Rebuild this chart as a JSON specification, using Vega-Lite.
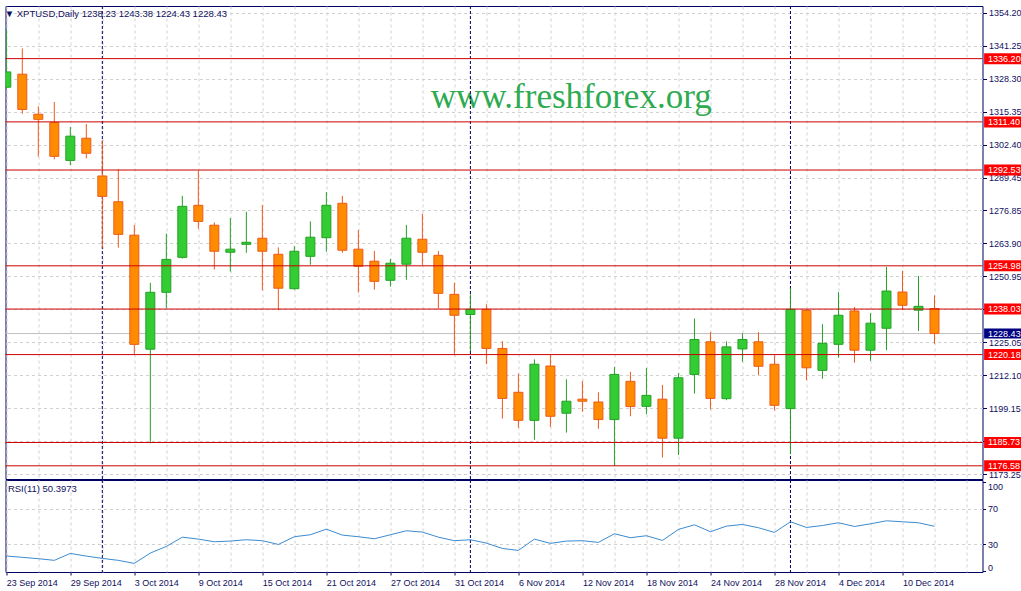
{
  "$schema": "https://vega.github.io/schema/vega-lite/v6.json",
  "background": "white",
  "padding": {"left": 3.5, "top": 5, "right": 0, "bottom": 0},
  "spacing": 1,
  "bounds": "flush",
  "config": {
    "view": {"stroke": "#000060", "strokeWidth": 1},
    "font": "Liberation Sans",
    "axis": {"labelOverlap": false, "tickCount": 200},
    "scale": {"continuousPadding": 0}
  },
  "resolve": {"scale": {"x": "independent", "y": "independent"}},
  "datasets": {
    "candles": [
      {"i":0,"o":1325.0,"h":1347.7,"l":1324.6,"c":1331.0,"d":"up"},
      {"i":1,"o":1330.1,"h":1340.2,"l":1314.6,"c":1316.3,"d":"down"},
      {"i":2,"o":1314.4,"h":1317.5,"l":1297.8,"c":1312.4,"d":"down"},
      {"i":3,"o":1311.2,"h":1319.2,"l":1296.7,"c":1297.9,"d":"down"},
      {"i":4,"o":1296.3,"h":1309.4,"l":1294.4,"c":1305.8,"d":"up"},
      {"i":5,"o":1305.0,"h":1310.6,"l":1297.1,"c":1299.1,"d":"down"},
      {"i":6,"o":1290.2,"h":1304.2,"l":1262.1,"c":1282.2,"d":"down"},
      {"i":7,"o":1280.1,"h":1292.8,"l":1262.1,"c":1267.3,"d":"down"},
      {"i":8,"o":1267.0,"h":1271.0,"l":1220.0,"c":1224.2,"d":"down"},
      {"i":9,"o":1222.3,"h":1248.3,"l":1185.4,"c":1244.6,"d":"up"},
      {"i":10,"o":1244.6,"h":1267.6,"l":1238.5,"c":1257.5,"d":"up"},
      {"i":11,"o":1258.3,"h":1282.4,"l":1257.8,"c":1278.3,"d":"up"},
      {"i":12,"o":1278.7,"h":1292.2,"l":1269.5,"c":1272.4,"d":"down"},
      {"i":13,"o":1270.9,"h":1272.0,"l":1253.5,"c":1260.7,"d":"down"},
      {"i":14,"o":1260.3,"h":1273.7,"l":1252.7,"c":1261.5,"d":"up"},
      {"i":15,"o":1263.4,"h":1276.2,"l":1260.1,"c":1264.2,"d":"up"},
      {"i":16,"o":1265.8,"h":1278.8,"l":1245.4,"c":1260.7,"d":"down"},
      {"i":17,"o":1259.5,"h":1262.2,"l":1237.6,"c":1246.2,"d":"down"},
      {"i":18,"o":1246.0,"h":1262.7,"l":1245.6,"c":1260.7,"d":"up"},
      {"i":19,"o":1258.7,"h":1272.4,"l":1255.4,"c":1266.2,"d":"up"},
      {"i":20,"o":1266.0,"h":1283.9,"l":1260.5,"c":1278.7,"d":"up"},
      {"i":21,"o":1279.5,"h":1282.4,"l":1260.1,"c":1261.1,"d":"down"},
      {"i":22,"o":1261.5,"h":1269.0,"l":1244.5,"c":1254.8,"d":"down"},
      {"i":23,"o":1256.8,"h":1260.8,"l":1245.6,"c":1248.9,"d":"down"},
      {"i":24,"o":1249.3,"h":1257.7,"l":1246.8,"c":1256.0,"d":"up"},
      {"i":25,"o":1255.6,"h":1271.0,"l":1249.5,"c":1265.8,"d":"up"},
      {"i":26,"o":1265.4,"h":1275.4,"l":1255.3,"c":1260.3,"d":"down"},
      {"i":27,"o":1259.1,"h":1260.8,"l":1238.2,"c":1244.2,"d":"down"},
      {"i":28,"o":1243.8,"h":1248.3,"l":1219.9,"c":1235.6,"d":"down"},
      {"i":29,"o":1235.9,"h":1243.8,"l":1221.6,"c":1237.9,"d":"up"},
      {"i":30,"o":1237.9,"h":1239.9,"l":1216.4,"c":1222.6,"d":"down"},
      {"i":31,"o":1222.6,"h":1225.5,"l":1195.1,"c":1203.0,"d":"down"},
      {"i":32,"o":1205.4,"h":1212.7,"l":1191.5,"c":1194.4,"d":"down"},
      {"i":33,"o":1194.4,"h":1218.3,"l":1186.8,"c":1216.4,"d":"up"},
      {"i":34,"o":1215.7,"h":1220.0,"l":1191.8,"c":1196.0,"d":"down"},
      {"i":35,"o":1197.2,"h":1210.5,"l":1189.6,"c":1201.9,"d":"up"},
      {"i":36,"o":1202.7,"h":1209.8,"l":1197.8,"c":1201.9,"d":"down"},
      {"i":37,"o":1201.6,"h":1205.4,"l":1191.1,"c":1194.7,"d":"down"},
      {"i":38,"o":1194.7,"h":1215.3,"l":1176.5,"c":1212.4,"d":"up"},
      {"i":39,"o":1209.7,"h":1213.4,"l":1196.0,"c":1199.8,"d":"down"},
      {"i":40,"o":1199.9,"h":1214.9,"l":1196.8,"c":1204.2,"d":"up"},
      {"i":41,"o":1202.7,"h":1208.3,"l":1179.8,"c":1187.4,"d":"down"},
      {"i":42,"o":1187.4,"h":1212.9,"l":1180.8,"c":1211.1,"d":"up"},
      {"i":43,"o":1212.4,"h":1234.3,"l":1204.9,"c":1226.1,"d":"up"},
      {"i":44,"o":1225.2,"h":1229.0,"l":1198.7,"c":1203.0,"d":"down"},
      {"i":45,"o":1202.9,"h":1225.4,"l":1202.3,"c":1223.2,"d":"up"},
      {"i":46,"o":1222.4,"h":1228.5,"l":1217.4,"c":1226.1,"d":"up"},
      {"i":47,"o":1225.2,"h":1229.0,"l":1212.2,"c":1215.6,"d":"down"},
      {"i":48,"o":1216.4,"h":1219.9,"l":1198.3,"c":1200.3,"d":"down"},
      {"i":49,"o":1199.0,"h":1246.2,"l":1181.3,"c":1237.9,"d":"up"},
      {"i":50,"o":1237.5,"h":1237.9,"l":1210.2,"c":1215.0,"d":"down"},
      {"i":51,"o":1214.0,"h":1232.1,"l":1210.7,"c":1224.6,"d":"up"},
      {"i":52,"o":1224.2,"h":1244.7,"l":1219.0,"c":1235.6,"d":"up"},
      {"i":53,"o":1237.3,"h":1238.8,"l":1217.0,"c":1221.9,"d":"down"},
      {"i":54,"o":1221.9,"h":1236.4,"l":1217.7,"c":1232.5,"d":"up"},
      {"i":55,"o":1230.5,"h":1254.5,"l":1221.9,"c":1245.1,"d":"up"},
      {"i":56,"o":1244.7,"h":1253.0,"l":1237.6,"c":1239.5,"d":"down"},
      {"i":57,"o":1237.6,"h":1251.0,"l":1229.4,"c":1239.1,"d":"up"},
      {"i":58,"o":1238.23,"h":1243.38,"l":1224.43,"c":1228.43,"d":"down"}
    ],
    "rsi": [
      {"i":0,"r":17.0},{"i":1,"r":15.5},{"i":2,"r":14.0},{"i":3,"r":12.1},{"i":4,"r":19.9},
      {"i":5,"r":16.9},{"i":6,"r":14.3},{"i":7,"r":12.1},{"i":8,"r":8.7},{"i":9,"r":20.3},
      {"i":10,"r":27.8},{"i":11,"r":38.2},{"i":12,"r":36.0},{"i":13,"r":33.0},{"i":14,"r":33.8},
      {"i":15,"r":35.3},{"i":16,"r":34.2},{"i":17,"r":30.0},{"i":18,"r":38.7},{"i":19,"r":40.9},
      {"i":20,"r":47.2},{"i":21,"r":40.5},{"i":22,"r":38.7},{"i":23,"r":36.4},{"i":24,"r":40.9},
      {"i":25,"r":45.4},{"i":26,"r":43.9},{"i":27,"r":38.2},{"i":28,"r":34.2},{"i":29,"r":35.3},
      {"i":30,"r":31.5},{"i":31,"r":25.5},{"i":32,"r":23.3},{"i":33,"r":36.0},{"i":34,"r":31.2},
      {"i":35,"r":33.8},{"i":36,"r":34.2},{"i":37,"r":32.3},{"i":38,"r":42.0},{"i":39,"r":37.6},
      {"i":40,"r":39.8},{"i":41,"r":34.5},{"i":42,"r":46.9},{"i":43,"r":52.1},{"i":44,"r":44.3},
      {"i":45,"r":50.6},{"i":46,"r":52.5},{"i":47,"r":48.8},{"i":48,"r":43.5},{"i":49,"r":55.5},
      {"i":50,"r":49.1},{"i":51,"r":51.3},{"i":52,"r":54.4},{"i":53,"r":50.2},{"i":54,"r":53.2},
      {"i":55,"r":56.6},{"i":56,"r":55.5},{"i":57,"r":54.4},{"i":58,"r":50.4}
    ],
    "levels": [
      {"v":1336.20},{"v":1311.40},{"v":1292.53},{"v":1254.98},
      {"v":1238.03},{"v":1220.18},{"v":1185.73},{"v":1176.58}
    ],
    "bid": [{"v":1228.43}],
    "seps": [{"i":6},{"i":29},{"i":49}],
    "wm": [{"label":"www.freshforex.org"}],
    "ttl": [{"label":"▼ XPTUSD,Daily 1238.23 1243.38 1224.43 1228.43"}],
    "rttl": [{"label":"RSI(11) 50.3973"}]
  },
  "vconcat": [
    {
      "width": 977,
      "height": 473,
      "layer": [
        {
          "data": {"name": "wm"},
          "mark": {"type": "text", "font": "Liberation Serif", "fontSize": 35, "fill": "#2eaa50", "align": "center", "baseline": "alphabetic"},
          "encoding": {
            "x": {"datum": 35.3, "type": "quantitative"},
            "y": {"datum": 1316.85, "type": "quantitative"},
            "text": {"field": "label"}
          }
        },
        {
          "data": {"name": "bid"},
          "mark": {"type": "rule", "color": "#c0c0c0", "strokeWidth": 1},
          "encoding": {"y": {"field": "v", "type": "quantitative", "title": null}}
        },
        {
          "data": {"name": "seps"},
          "mark": {"type": "rule", "color": "#000060", "strokeWidth": 1, "strokeDash": [3, 2]},
          "encoding": {"x": {"field": "i", "type": "quantitative", "title": null}}
        },
        {
          "data": {"name": "candles"},
          "mark": {"type": "rule", "strokeWidth": 1, "clip": true},
          "encoding": {
            "x": {
              "field": "i", "type": "quantitative", "title": null,
              "scale": {"type": "linear", "domain": [-0.05, 61.0], "nice": false, "zero": false, "padding": 0},
              "axis": {"values": [0,2,4,6,8,10,12,14,16,18,20,22,24,26,28,30,32,34,36,38,40,42,44,46,48,50,52,54,56,58,60],
                       "tickCount": 200,
                       "grid": true, "gridColor": "#d0d0d0", "gridDash": [3, 3], "labels": false, "ticks": false, "domain": false, "title": null}
            },
            "y": {
              "field": "l", "type": "quantitative", "title": null,
              "scale": {"type": "linear", "domain": [1171.41, 1356.83], "nice": false, "zero": false, "padding": 0},
              "axis": {"orient": "right", "title": null, "tickCount": 200,
                       "values": [1354.20,1341.25,1328.30,1315.35,1302.40,1289.45,1276.85,1263.90,1250.95,1238.00,1225.05,1212.10,1199.15,1186.20,1173.25],
                       "labelExpr": "(datum.value == 1238 || datum.value == 1186.2) ? '' : format(datum.value, '.2f')",
                       "labelFontSize": 9, "labelColor": "#101060", "labelPadding": 2,
                       "tickColor": "#000060", "tickSize": 4, "domain": false,
                       "grid": true, "gridColor": "#d0d0d0", "gridDash": [3, 3], "labelOverlap": false}
            },
            "y2": {"field": "h"},
            "stroke": {"field": "d", "type": "nominal", "legend": null,
                       "scale": {"domain": ["up", "down"], "range": ["#24a024", "#ec5a18"]}}
          }
        },
        {
          "data": {"name": "candles"},
          "mark": {"type": "bar", "size": 9, "strokeWidth": 1, "clip": true},
          "encoding": {
            "x": {"field": "i", "type": "quantitative", "title": null},
            "y": {"field": "o", "type": "quantitative", "title": null},
            "y2": {"field": "c"},
            "fill": {"field": "d", "type": "nominal", "legend": null,
                     "scale": {"domain": ["up", "down"], "range": ["#33cc33", "#ff8c00"]}},
            "stroke": {"field": "d", "type": "nominal", "legend": null}
          }
        },
        {
          "data": {"name": "levels"},
          "mark": {"type": "rule", "color": "#cc0000", "strokeWidth": 1},
          "encoding": {"y": {"field": "v", "type": "quantitative", "title": null}}
        },
        {
          "data": {"name": "levels"},
          "mark": {"type": "bar", "size": 11, "fill": "#ff0000", "clip": false},
          "encoding": {
            "x": {"datum": 61.1, "type": "quantitative"},
            "x2": {"datum": 63.45},
            "y": {"field": "v", "type": "quantitative", "title": null}
          }
        },
        {
          "data": {"name": "bid"},
          "mark": {"type": "bar", "size": 10, "fill": "#000080", "clip": false},
          "encoding": {
            "x": {"datum": 61.1, "type": "quantitative"},
            "x2": {"datum": 63.45},
            "y": {"field": "v", "type": "quantitative", "title": null}
          }
        },
        {
          "data": {"name": "levels"},
          "mark": {"type": "text", "fontSize": 9, "fill": "#ffffff", "align": "left", "baseline": "middle", "clip": false},
          "encoding": {
            "x": {"datum": 61.35, "type": "quantitative"},
            "y": {"field": "v", "type": "quantitative", "title": null},
            "text": {"field": "v", "type": "quantitative", "format": ".2f"}
          }
        },
        {
          "data": {"name": "bid"},
          "mark": {"type": "text", "fontSize": 9, "fill": "#ffffff", "align": "left", "baseline": "middle", "clip": false},
          "encoding": {
            "x": {"datum": 61.35, "type": "quantitative"},
            "y": {"field": "v", "type": "quantitative", "title": null},
            "text": {"field": "v", "type": "quantitative", "format": ".2f"}
          }
        },
        {
          "data": {"name": "ttl"},
          "mark": {"type": "text", "fontSize": 9.5, "fill": "#101060", "align": "left", "baseline": "middle"},
          "encoding": {
            "x": {"datum": -0.1, "type": "quantitative"},
            "y": {"datum": 1353.6, "type": "quantitative"},
            "text": {"field": "label"}
          }
        }
      ]
    },
    {
      "width": 977,
      "height": 92,
      "layer": [
        {
          "data": {"name": "seps"},
          "mark": {"type": "rule", "color": "#000060", "strokeWidth": 1, "strokeDash": [3, 2]},
          "encoding": {"x": {"field": "i", "type": "quantitative", "title": null}}
        },
        {
          "data": {"name": "rsi"},
          "mark": {"type": "line", "color": "#3b8bd0", "strokeWidth": 1, "clip": true},
          "encoding": {
            "x": {
              "field": "i", "type": "quantitative", "title": null,
              "scale": {"type": "linear", "domain": [-0.05, 61.0], "nice": false, "zero": false, "padding": 0},
              "axis": {"values": [0,2,4,6,8,10,12,14,16,18,20,22,24,26,28,30,32,34,36,38,40,42,44,46,48,50,52,54,56,58,60],
                       "tickCount": 200,
                       "grid": true, "gridColor": "#d0d0d0", "gridDash": [3, 3], "domain": false, "title": null,
                       "labelExpr": "(datum.value % 4 == 0 && datum.value <= 56) ? ['23 Sep 2014','29 Sep 2014','3 Oct 2014','9 Oct 2014','15 Oct 2014','21 Oct 2014','27 Oct 2014','31 Oct 2014','6 Nov 2014','12 Nov 2014','18 Nov 2014','24 Nov 2014','28 Nov 2014','4 Dec 2014','10 Dec 2014'][datum.value / 4] : ''",
                       "labelAlign": "left", "labelFontSize": 9, "labelColor": "#101060", "labelPadding": 3,
                       "labelOverlap": false, "labelFlush": false, "labelBound": false,
                       "tickSize": 3, "tickColor": "#000060",
                       "tickOpacity": {"condition": {"test": "datum.value % 4 == 0 && datum.value <= 56", "value": 1}, "value": 0}}
            },
            "y": {
              "field": "r", "type": "quantitative", "title": null,
              "scale": {"type": "linear", "domain": [-1, 102.5], "nice": false, "zero": false, "padding": 0},
              "axis": {"orient": "right", "title": null, "values": [0, 30, 70, 100], "tickCount": 200, "format": "d",
                       "labelFontSize": 9, "labelColor": "#101060", "labelPadding": 2,
                       "tickColor": "#000060", "tickSize": 3, "domain": false,
                       "grid": true, "gridColor": "#d0d0d0", "gridDash": [3, 3],
                       "gridOpacity": {"condition": {"test": "datum.value == 30 || datum.value == 70", "value": 1}, "value": 0},
                       "labelBaseline": {"condition": {"test": "datum.value == 100", "value": "top"}, "value": "middle"},
                       "labelOffset": {"condition": {"test": "datum.value == 0", "value": -4}, "value": 0},
                       "labelOverlap": false}
            }
          }
        },
        {
          "data": {"name": "rttl"},
          "mark": {"type": "text", "fontSize": 9.5, "fill": "#101060", "align": "left", "baseline": "middle"},
          "encoding": {
            "x": {"datum": 0.1, "type": "quantitative"},
            "y": {"datum": 92, "type": "quantitative"},
            "text": {"field": "label"}
          }
        }
      ]
    }
  ]
}
